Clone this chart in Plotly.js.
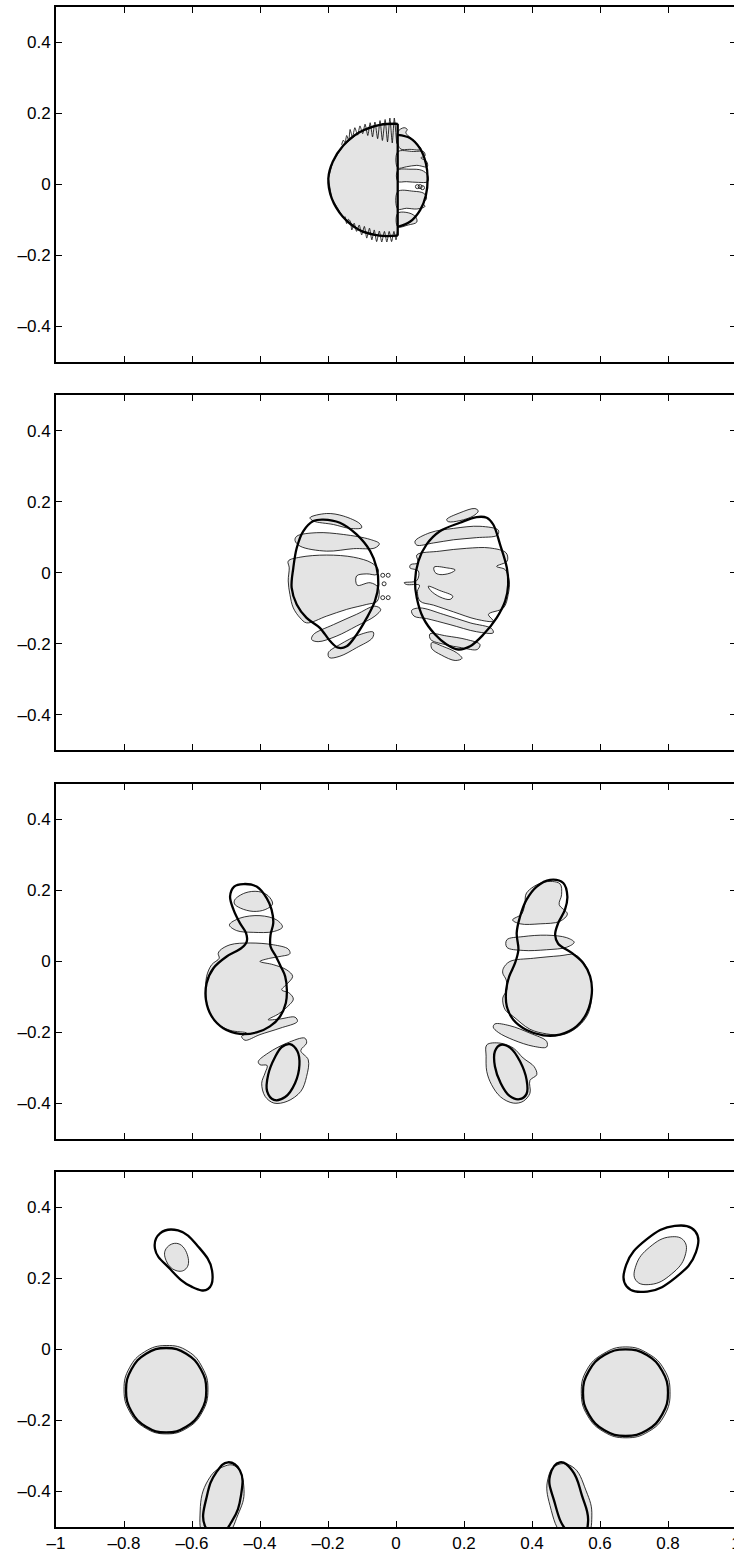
<!DOCTYPE html>
<html><head><meta charset="utf-8">
<script src="https://cdn.plot.ly/plotly-3.0.1.min.js"></script>
<style>html,body{margin:0;padding:0;overflow:hidden;background:#fff}#c{width:746px;height:1556px}</style>
</head><body><div id="c"></div>
<script>
// ---------- tick values / labels ----------
const xTickVals = [-1,-0.8,-0.6,-0.4,-0.2,0,0.2,0.4,0.6,0.8,1];
const xTickText = ['\u20131','\u20130.8','\u20130.6','\u20130.4','\u20130.2','0','0.2','0.4','0.6','0.8','1'];
const yTickVals = [-0.4,-0.2,0,0.2,0.4];
const yTickText = ['\u20130.4','\u20130.2','0','0.2','0.4'];

// ---------- Panel 1 ----------
const p1_left_arc = [[0.005,0.171],[-0.047,0.168],[-0.106,0.148],[-0.155,0.110],[-0.186,0.064],[-0.199,0.017],[-0.189,-0.039],[-0.157,-0.090],[-0.108,-0.128],[-0.049,-0.144],[0.005,-0.144]];
const p1_mid_line = [[0.005,0.171],[0.005,-0.144]];
const p1_right_arc = [[0.005,0.140],[0.041,0.131],[0.071,0.101],[0.088,0.059],[0.093,0.017],[0.088,-0.030],[0.071,-0.072],[0.041,-0.105],[0.005,-0.119]];
const p1_comb_top = [[-0.160,0.112],[-0.155,0.125],[-0.150,0.118],[-0.145,0.138],[-0.139,0.124],[-0.135,0.155],[-0.128,0.133],[-0.121,0.160],[-0.113,0.139],[-0.106,0.165],[-0.098,0.143],[-0.091,0.170],[-0.083,0.138],[-0.076,0.174],[-0.069,0.134],[-0.062,0.176],[-0.054,0.129],[-0.047,0.180],[-0.040,0.124],[-0.032,0.183],[-0.025,0.120],[-0.018,0.187],[-0.011,0.117],[-0.005,0.187],[0.002,0.115]];
const p1_comb_bot = [[-0.150,-0.090],[-0.145,-0.110],[-0.140,-0.098],[-0.134,-0.104],[-0.130,-0.128],[-0.123,-0.109],[-0.116,-0.132],[-0.108,-0.114],[-0.101,-0.142],[-0.093,-0.118],[-0.086,-0.151],[-0.078,-0.123],[-0.071,-0.156],[-0.064,-0.128],[-0.057,-0.161],[-0.049,-0.131],[-0.042,-0.162],[-0.034,-0.132],[-0.027,-0.162],[-0.020,-0.132],[-0.013,-0.161],[-0.006,-0.132],[0.000,-0.156],[0.004,-0.132]];
const p1_strip1 = [[0.005,0.148],[0.024,0.160],[0.033,0.155],[0.029,0.146],[0.056,0.120],[0.073,0.099],[0.041,0.099],[0.012,0.101]];
const p1_strip2 = [[0.005,0.092],[0.051,0.093],[0.082,0.092],[0.085,0.080],[0.073,0.075],[0.090,0.065],[0.092,0.050],[0.061,0.054],[0.031,0.050],[0.005,0.047]];
const p1_strip3 = [[0.005,0.040],[0.041,0.043],[0.076,0.040],[0.093,0.026],[0.093,0.008],[0.066,0.006],[0.031,0.008],[0.005,0.009]];
const p1_strip4 = [[0.005,-0.020],[0.051,-0.019],[0.082,-0.025],[0.090,-0.039],[0.080,-0.053],[0.085,-0.062],[0.061,-0.069],[0.031,-0.067],[0.005,-0.069]];
const p1_strip5 = [[0.005,-0.081],[0.041,-0.081],[0.059,-0.093],[0.061,-0.106],[0.036,-0.114],[0.005,-0.119]];
const p1_dots = [[0.063,-0.006],[0.071,-0.006],[0.078,-0.009]];

// ---------- Panel 2 ----------
const p2_L_thick = [[-0.214,0.150],[-0.165,0.141],[-0.116,0.108],[-0.076,0.061],[-0.057,0.014],[-0.052,-0.033],[-0.062,-0.080],[-0.086,-0.127],[-0.116,-0.174],[-0.145,-0.207],[-0.170,-0.211],[-0.194,-0.192],[-0.224,-0.155],[-0.263,-0.127],[-0.292,-0.089],[-0.307,-0.042],[-0.302,0.014],[-0.292,0.070],[-0.273,0.117],[-0.243,0.146]];
const p2_L_g1 = [[-0.253,0.155],[-0.204,0.167],[-0.155,0.160],[-0.106,0.138],[-0.101,0.127],[-0.135,0.125],[-0.184,0.136],[-0.243,0.146]];
const p2_L_g2 = [[-0.292,0.103],[-0.233,0.113],[-0.155,0.108],[-0.076,0.094],[-0.049,0.082],[-0.062,0.070],[-0.125,0.068],[-0.204,0.061],[-0.282,0.075],[-0.297,0.091]];
const p2_L_g3 = [[-0.317,0.033],[-0.282,0.044],[-0.204,0.050],[-0.125,0.044],[-0.072,0.028],[-0.052,0.009],[-0.057,-0.005],[-0.086,-0.003],[-0.116,-0.009],[-0.114,-0.035],[-0.076,-0.028],[-0.052,-0.042],[-0.055,-0.080],[-0.086,-0.089],[-0.145,-0.103],[-0.204,-0.122],[-0.263,-0.141],[-0.282,-0.127],[-0.302,-0.099],[-0.312,-0.061],[-0.317,-0.023],[-0.314,0.014]];
const p2_L_g4 = [[-0.243,-0.174],[-0.184,-0.146],[-0.116,-0.117],[-0.062,-0.094],[-0.045,-0.103],[-0.062,-0.122],[-0.116,-0.150],[-0.174,-0.178],[-0.229,-0.194],[-0.248,-0.188]];
const p2_L_g5 = [[-0.199,-0.225],[-0.165,-0.202],[-0.106,-0.174],[-0.067,-0.167],[-0.069,-0.183],[-0.116,-0.211],[-0.165,-0.235],[-0.196,-0.239]];
const p2_dots = [[-0.039,-0.007],[-0.023,-0.007],[-0.035,-0.031],[-0.039,-0.070],[-0.023,-0.070]];
const p2_R_thick = [[0.267,0.155],[0.286,0.136],[0.306,0.080],[0.326,0.014],[0.330,-0.033],[0.321,-0.080],[0.296,-0.127],[0.257,-0.174],[0.218,-0.207],[0.183,-0.216],[0.149,-0.202],[0.115,-0.174],[0.080,-0.127],[0.061,-0.070],[0.056,-0.023],[0.066,0.033],[0.090,0.080],[0.129,0.117],[0.188,0.141],[0.237,0.157]];
const p2_R_g1 = [[0.149,0.150],[0.188,0.169],[0.232,0.181],[0.242,0.174],[0.227,0.160],[0.188,0.147],[0.154,0.144]];
const p2_R_g2 = [[0.056,0.089],[0.100,0.113],[0.169,0.125],[0.247,0.131],[0.301,0.120],[0.298,0.106],[0.237,0.099],[0.169,0.093],[0.110,0.084],[0.061,0.078]];
const p2_R_g3 = [[0.061,0.050],[0.129,0.061],[0.208,0.069],[0.276,0.070],[0.324,0.056],[0.327,0.033],[0.296,0.018],[0.321,0.009],[0.333,-0.023],[0.330,-0.061],[0.316,-0.099],[0.272,-0.117],[0.286,-0.136],[0.237,-0.131],[0.169,-0.110],[0.110,-0.091],[0.071,-0.080],[0.063,-0.052],[0.069,-0.035],[0.031,-0.033],[0.024,-0.028],[0.061,-0.022],[0.066,0.005],[0.041,0.014],[0.043,0.023],[0.066,0.028]];
const p2_R_hole1 = [[0.112,0.016],[0.149,0.014],[0.174,0.008],[0.159,-0.001],[0.129,-0.005],[0.115,0.001]];
const p2_R_hole2 = [[0.095,-0.038],[0.129,-0.050],[0.167,-0.066],[0.159,-0.075],[0.129,-0.068],[0.102,-0.050]];
const p2_R_g4 = [[0.046,-0.106],[0.071,-0.099],[0.139,-0.117],[0.218,-0.141],[0.281,-0.157],[0.286,-0.169],[0.237,-0.166],[0.159,-0.146],[0.090,-0.129],[0.053,-0.122]];
const p2_R_g5 = [[0.100,-0.172],[0.149,-0.178],[0.208,-0.188],[0.247,-0.202],[0.239,-0.216],[0.193,-0.211],[0.144,-0.202],[0.102,-0.188]];
const p2_R_g6 = [[0.105,-0.197],[0.137,-0.207],[0.178,-0.225],[0.194,-0.241],[0.174,-0.247],[0.134,-0.232],[0.105,-0.213]];

// ---------- Panel 3 ----------
const p3_L_thick = [[-0.449,0.217],[-0.410,0.210],[-0.380,0.177],[-0.366,0.145],[-0.361,0.107],[-0.369,0.074],[-0.369,0.041],[-0.353,0.013],[-0.339,-0.015],[-0.326,-0.043],[-0.321,-0.081],[-0.324,-0.118],[-0.341,-0.156],[-0.371,-0.184],[-0.410,-0.201],[-0.459,-0.205],[-0.508,-0.189],[-0.542,-0.156],[-0.559,-0.109],[-0.557,-0.062],[-0.537,-0.020],[-0.498,0.013],[-0.454,0.037],[-0.439,0.055],[-0.441,0.079],[-0.459,0.107],[-0.478,0.145],[-0.488,0.182],[-0.476,0.210]];
const p3_L_small = [[-0.312,-0.234],[-0.290,-0.254],[-0.284,-0.292],[-0.297,-0.344],[-0.326,-0.383],[-0.359,-0.391],[-0.379,-0.367],[-0.376,-0.320],[-0.356,-0.271],[-0.336,-0.242]];
const p3_L_g1 = [[-0.474,0.173],[-0.444,0.192],[-0.405,0.196],[-0.376,0.184],[-0.363,0.161],[-0.385,0.145],[-0.420,0.140],[-0.457,0.149],[-0.475,0.161]];
const p3_L_g2 = [[-0.490,0.102],[-0.459,0.121],[-0.400,0.128],[-0.351,0.116],[-0.334,0.096],[-0.361,0.083],[-0.420,0.081],[-0.469,0.086]];
const p3_L_g3 = [[-0.518,0.030],[-0.488,0.046],[-0.429,0.051],[-0.361,0.046],[-0.317,0.034],[-0.312,0.021],[-0.341,0.013],[-0.371,0.008],[-0.400,-0.001],[-0.361,-0.010],[-0.321,-0.025],[-0.304,-0.043],[-0.320,-0.064],[-0.336,-0.081],[-0.314,-0.090],[-0.302,-0.107],[-0.321,-0.130],[-0.346,-0.149],[-0.376,-0.165],[-0.341,-0.163],[-0.297,-0.158],[-0.290,-0.170],[-0.341,-0.189],[-0.400,-0.207],[-0.444,-0.223],[-0.454,-0.212],[-0.439,-0.203],[-0.488,-0.195],[-0.527,-0.175],[-0.552,-0.137],[-0.559,-0.090],[-0.557,-0.043],[-0.542,-0.010],[-0.520,0.008],[-0.523,0.021]];
const p3_L_g4 = [[-0.405,-0.283],[-0.376,-0.259],[-0.321,-0.231],[-0.268,-0.217],[-0.263,-0.231],[-0.280,-0.252],[-0.258,-0.278],[-0.263,-0.325],[-0.280,-0.367],[-0.320,-0.395],[-0.359,-0.400],[-0.385,-0.381],[-0.395,-0.344],[-0.385,-0.315],[-0.379,-0.294],[-0.400,-0.292]];
const p3_R_thick = [[0.453,0.229],[0.492,0.220],[0.504,0.182],[0.497,0.145],[0.477,0.107],[0.468,0.074],[0.477,0.049],[0.517,0.023],[0.551,-0.006],[0.571,-0.043],[0.576,-0.090],[0.561,-0.146],[0.531,-0.184],[0.482,-0.207],[0.433,-0.209],[0.384,-0.194],[0.345,-0.165],[0.326,-0.128],[0.324,-0.081],[0.333,-0.043],[0.350,-0.006],[0.360,0.032],[0.355,0.079],[0.365,0.126],[0.384,0.173],[0.414,0.210]];
const p3_R_small = [[0.308,-0.236],[0.337,-0.245],[0.365,-0.283],[0.384,-0.334],[0.384,-0.374],[0.363,-0.389],[0.333,-0.379],[0.308,-0.344],[0.291,-0.297],[0.291,-0.254]];
const p3_R_g1 = [[0.384,0.192],[0.433,0.222],[0.482,0.218],[0.487,0.187],[0.480,0.159],[0.504,0.133],[0.482,0.112],[0.424,0.105],[0.365,0.105],[0.343,0.116],[0.370,0.133],[0.379,0.163]];
const p3_R_g2 = [[0.326,0.060],[0.374,0.069],[0.443,0.073],[0.502,0.066],[0.524,0.053],[0.502,0.039],[0.443,0.032],[0.374,0.030],[0.326,0.039]];
const p3_R_g3 = [[0.316,-0.020],[0.335,-0.001],[0.404,0.008],[0.482,0.015],[0.526,0.018],[0.553,-0.006],[0.571,-0.043],[0.576,-0.090],[0.566,-0.146],[0.536,-0.184],[0.492,-0.207],[0.443,-0.205],[0.394,-0.192],[0.345,-0.156],[0.321,-0.137],[0.314,-0.104],[0.326,-0.081],[0.324,-0.053],[0.314,-0.034]];
const p3_R_g4 = [[0.291,-0.177],[0.335,-0.182],[0.394,-0.203],[0.443,-0.226],[0.443,-0.242],[0.404,-0.240],[0.345,-0.222],[0.301,-0.201],[0.286,-0.186]];
const p3_R_g5 = [[0.267,-0.236],[0.306,-0.231],[0.345,-0.245],[0.374,-0.273],[0.406,-0.297],[0.414,-0.320],[0.394,-0.336],[0.394,-0.372],[0.374,-0.395],[0.345,-0.400],[0.308,-0.383],[0.281,-0.348],[0.267,-0.311],[0.265,-0.268]];

// ---------- Panel 4 ----------
const p4_UL_thick = [[-0.694,0.327],[-0.641,0.335],[-0.582,0.290],[-0.541,0.222],[-0.553,0.170],[-0.600,0.176],[-0.665,0.227],[-0.709,0.284]];
const p4_UL_gray = [[-0.676,0.284],[-0.641,0.298],[-0.612,0.261],[-0.618,0.227],[-0.647,0.222],[-0.676,0.250]];
const p4_UR_thick = [[0.880,0.333],[0.882,0.273],[0.823,0.203],[0.739,0.163],[0.678,0.178],[0.677,0.238],[0.736,0.309],[0.820,0.348]];
const p4_UR_gray = [[0.847,0.306],[0.850,0.263],[0.810,0.212],[0.749,0.183],[0.706,0.194],[0.706,0.237],[0.746,0.288],[0.807,0.317]];
const p4_L_thick = [[-0.558,-0.115],[-0.574,-0.056],[-0.617,-0.012],[-0.676,0.004],[-0.735,-0.012],[-0.778,-0.056],[-0.794,-0.115],[-0.778,-0.175],[-0.735,-0.218],[-0.676,-0.234],[-0.617,-0.218],[-0.574,-0.175]];
const p4_L_gray = [[-0.553,-0.112],[-0.569,-0.052],[-0.612,-0.005],[-0.676,0.011],[-0.740,-0.007],[-0.784,-0.052],[-0.800,-0.114],[-0.783,-0.176],[-0.738,-0.221],[-0.676,-0.238],[-0.615,-0.222],[-0.570,-0.177]];
const p4_R_thick = [[0.800,-0.122],[0.783,-0.061],[0.738,-0.016],[0.675,0.000],[0.613,-0.016],[0.567,-0.061],[0.550,-0.122],[0.567,-0.183],[0.613,-0.228],[0.675,-0.244],[0.738,-0.228],[0.783,-0.183]];
const p4_R_gray = [[0.806,-0.118],[0.789,-0.057],[0.742,-0.012],[0.676,0.007],[0.610,-0.012],[0.561,-0.058],[0.545,-0.124],[0.563,-0.186],[0.611,-0.232],[0.676,-0.249],[0.742,-0.232],[0.790,-0.185]];
const p4_BL_thick = [[-0.494,-0.318],[-0.459,-0.341],[-0.456,-0.412],[-0.482,-0.483],[-0.524,-0.526],[-0.562,-0.497],[-0.556,-0.412],[-0.529,-0.347]];
const p4_BL_gray = [[-0.512,-0.332],[-0.471,-0.330],[-0.447,-0.395],[-0.465,-0.466],[-0.503,-0.526],[-0.562,-0.526],[-0.576,-0.455],[-0.553,-0.369]];
const p4_BR_thick = [[0.482,-0.318],[0.518,-0.341],[0.547,-0.412],[0.565,-0.483],[0.547,-0.531],[0.503,-0.511],[0.465,-0.426],[0.453,-0.355]];
const p4_BR_gray = [[0.471,-0.327],[0.518,-0.330],[0.559,-0.398],[0.576,-0.469],[0.559,-0.526],[0.497,-0.526],[0.453,-0.440],[0.447,-0.364]];

// ---------- build ----------
const GRAY = '#e4e4e4';
const traces = [];
function ax(k){ return k===1 ? ['x','y'] : ['x'+k,'y'+k]; }
function shape(pts, k, kind, smooth){
  const [xa, ya] = ax(k);
  const closed = kind !== 'open' && kind !== 'openthin';
  const P = closed ? pts.concat([pts[0]]) : pts;
  const sm = (smooth === undefined) ? 1.0 : smooth;
  const t = {x: P.map(p=>p[0]), y: P.map(p=>p[1]), xaxis: xa, yaxis: ya, mode: 'lines',
    hoverinfo: 'skip', showlegend: false,
    line: {color: '#000', width: 0.8, shape: sm === 0 ? 'linear' : 'spline', smoothing: sm || 1}};
  if (kind === 'gray') { t.fill = 'toself'; t.fillcolor = GRAY; }
  if (kind === 'white') { t.fill = 'toself'; t.fillcolor = '#ffffff'; }
  if (kind === 'thick' || kind === 'open') { t.line.width = 2.3; }
  traces.push(t);
}
function dots(pts, k){
  const [xa, ya] = ax(k);
  traces.push({x: pts.map(p=>p[0]), y: pts.map(p=>p[1]), xaxis: xa, yaxis: ya, mode: 'markers',
    hoverinfo: 'skip', showlegend: false,
    marker: {symbol: 'circle-open', size: 4, color: '#000', line: {width: 0.8}}});
}

// panel 1
shape(p1_left_arc, 1, 'gray', 0);
[p1_strip1, p1_strip2, p1_strip3, p1_strip4, p1_strip5].forEach(s => shape(s, 1, 'gray'));
shape(p1_comb_top, 1, 'openthin', 0.6);
shape(p1_comb_bot, 1, 'openthin', 0.6);
dots(p1_dots, 1);
shape(p1_left_arc, 1, 'open');
shape(p1_mid_line, 1, 'open', 0);
shape(p1_right_arc, 1, 'open');

// panel 2
[p2_L_g1, p2_L_g2, p2_L_g3, p2_L_g4, p2_L_g5, p2_R_g1, p2_R_g2, p2_R_g3, p2_R_g4, p2_R_g5, p2_R_g6].forEach(s => shape(s, 2, 'gray'));
shape(p2_R_hole1, 2, 'white'); shape(p2_R_hole2, 2, 'white');
dots(p2_dots, 2);
shape(p2_L_thick, 2, 'thick'); shape(p2_R_thick, 2, 'thick');

// panel 3
[p3_L_g1, p3_L_g2, p3_L_g3, p3_L_g4, p3_R_g1, p3_R_g2, p3_R_g3, p3_R_g4, p3_R_g5].forEach(s => shape(s, 3, 'gray'));
[p3_L_thick, p3_L_small, p3_R_thick, p3_R_small].forEach(s => shape(s, 3, 'thick'));

// panel 4
[p4_UL_gray, p4_UR_gray, p4_L_gray, p4_R_gray, p4_BL_gray, p4_BR_gray].forEach(s => shape(s, 4, 'gray', 1.3));
[p4_UL_thick, p4_UR_thick, p4_L_thick, p4_R_thick, p4_BL_thick, p4_BR_thick].forEach(s => shape(s, 4, 'thick', 1.3));

// ---------- layout ----------
const H = 355, G = 33.3, PH = 1520;
const font = {family: 'Liberation Sans, Arial, Helvetica, sans-serif', size: 17, color: '#000'};
const layout = {width: 746, height: 1556, margin: {l: 56, r: 10, t: 7, b: 29},
  paper_bgcolor: '#fff', plot_bgcolor: '#fff', font: font, showlegend: false};
for (let k = 1; k <= 4; k++) {
  const top = 1 - (k-1)*(H+G)/PH, bot = top - H/PH;
  const xn = k===1 ? 'xaxis' : 'xaxis'+k, yn = k===1 ? 'yaxis' : 'yaxis'+k;
  layout[xn] = {domain: [0,1], anchor: k===1?'y':'y'+k, range: [-1,1], tickmode: 'array',
    tickvals: xTickVals, ticktext: xTickText, showticklabels: k===4, ticks: 'inside', ticklen: 6,
    tickwidth: 1, tickcolor: '#000', showline: true, linecolor: '#000', linewidth: 2, mirror: 'ticks',
    showgrid: false, zeroline: false, fixedrange: true, tickfont: font};
  layout[yn] = {domain: [bot, top], anchor: k===1?'x':'x'+k, range: [-0.5,0.5], tickmode: 'array',
    tickvals: yTickVals, ticktext: yTickText, ticks: 'inside', ticklen: 6, tickwidth: 1, tickcolor: '#000',
    showline: true, linecolor: '#000', linewidth: 2, mirror: 'ticks', showgrid: false, zeroline: false,
    fixedrange: true, tickfont: font};
}
Plotly.newPlot('c', traces, layout, {staticPlot: true, displayModeBar: false});
</script></body></html>
